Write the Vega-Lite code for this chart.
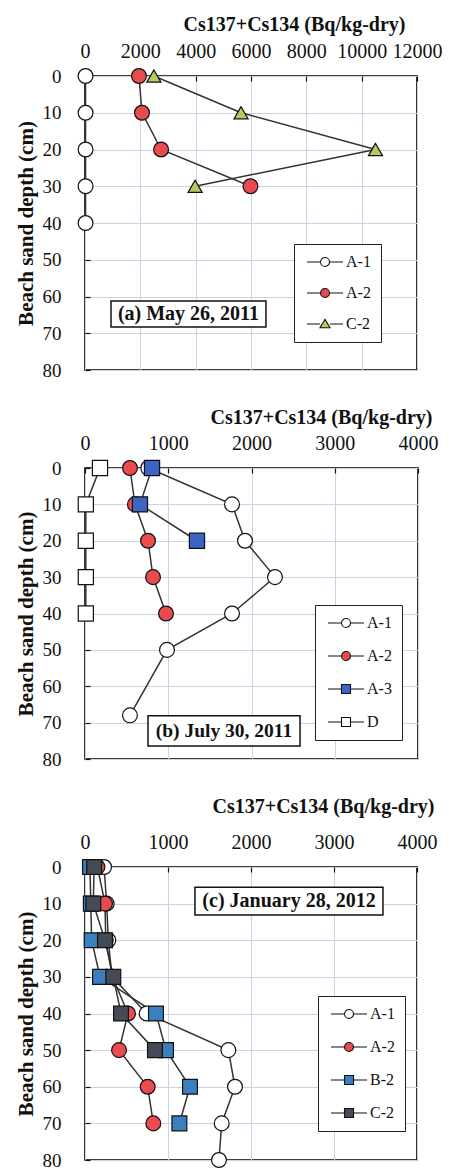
{
  "$schema": "https://vega.github.io/schema/vega-lite/v6.json",
  "background": "white",
  "padding": {"top": 13, "left": 14, "right": 0, "bottom": 0},
  "spacing": 25,
  "config": {
    "view": {"stroke": "black", "strokeWidth": 1.6},
    "axis": {
      "labelFont": "Liberation Serif", "labelColor": "#111", "labelFontSize": 19,
      "titleFont": "Liberation Serif", "titleFontWeight": "bold", "titleColor": "#111", "titleFontSize": 20,
      "grid": true, "gridColor": "#c9d3e3", "gridWidth": 1,
      "domain": false, "ticks": true, "tickColor": "#111", "tickSize": -5, "tickWidth": 1.2,
      "labelFlush": false, "labelOverlap": false, "labelBound": false, "format": "d"
    },
    "legend": {
      "labelFont": "Liberation Serif", "labelFontSize": 16, "labelColor": "#111",
      "strokeColor": "#222", "fillColor": "white", "padding": 10, "symbolSize": 100, "labelOffset": 26,
      "symbolOpacity": 1, "symbolStrokeColor": "#111", "symbolStrokeWidth": 1.1
    }
  },
  "vconcat": [
    {
      "width": 332, "height": 294,
      "data": {"values": [
        {"s": "A-1", "depth": 0, "v": 20}, {"s": "A-1", "depth": 10, "v": 20}, {"s": "A-1", "depth": 20, "v": 20}, {"s": "A-1", "depth": 30, "v": 20}, {"s": "A-1", "depth": 40, "v": 20},
        {"s": "A-2", "depth": 0, "v": 1950}, {"s": "A-2", "depth": 10, "v": 2060}, {"s": "A-2", "depth": 20, "v": 2750}, {"s": "A-2", "depth": 30, "v": 5980},
        {"s": "C-2", "depth": 0, "v": 2490}, {"s": "C-2", "depth": 10, "v": 5640}, {"s": "C-2", "depth": 20, "v": 10500}, {"s": "C-2", "depth": 30, "v": 3980}
      ]},
      "layer": [
        {"mark": {"type": "line", "color": "#333", "strokeWidth": 1.5},
          "encoding": {
            "x": {"field": "v", "type": "quantitative", "scale": {"domain": [0, 12000], "nice": false},
              "axis": {"orient": "top", "title": "Cs137+Cs134 (Bq/kg-dry)", "values": [0, 2000, 4000, 6000, 8000, 10000, 12000], "labelOverlap": false, "labelFlush": false, "labelFontSize": 20, "labelPadding": 20, "titleX": 209, "titleY": -46, "titleAlign": "center", "titleBaseline": "alphabetic"}},
            "y": {"field": "depth", "type": "quantitative", "scale": {"domain": [0, 80], "reverse": true, "nice": false},
              "axis": {"title": "Beach sand depth (cm)", "values": [0, 10, 20, 30, 40, 50, 60, 70, 80], "labelOverlap": false, "labelPadding": 29, "titlePadding": 6, "titleFontSize": 21}},
            "detail": {"field": "s"}, "order": {"field": "depth"}}},
        {"mark": {"type": "point", "filled": true, "opacity": 0, "size": 100, "strokeWidth": 1.1},
          "encoding": {
            "x": {"field": "v", "type": "quantitative", "scale": {"domain": [0, 12000], "nice": false},
              "axis": {"orient": "top", "title": "Cs137+Cs134 (Bq/kg-dry)", "values": [0, 2000, 4000, 6000, 8000, 10000, 12000], "labelOverlap": false, "labelFlush": false, "labelFontSize": 20, "labelPadding": 20, "titleX": 209, "titleY": -46, "titleAlign": "center", "titleBaseline": "alphabetic"}},
            "y": {"field": "depth", "type": "quantitative", "scale": {"domain": [0, 80], "reverse": true, "nice": false},
              "axis": {"title": "Beach sand depth (cm)", "values": [0, 10, 20, 30, 40, 50, 60, 70, 80], "labelOverlap": false, "labelPadding": 29, "titlePadding": 6, "titleFontSize": 21}},
            "shape": {"field": "s", "type": "nominal", "scale": {"domain": ["A-1", "A-2", "C-2"], "range": ["M-1,0H1.7M3.5,0H6.2M3.5,0A0.9,0.9,0,1,1,1.7,0A0.9,0.9,0,1,1,3.5,0Z", "M-1,0H1.7M3.5,0H6.2M3.5,0A0.9,0.9,0,1,1,1.7,0A0.9,0.9,0,1,1,3.5,0Z", "M-1,0H1.6M3.6,0H6.2M2.6,-0.95L3.6,0.75L1.6,0.75Z"]},
              "legend": {"title": null, "orient": "none", "legendX": 209, "legendY": 168, "rowPadding": 15, "symbolOpacity": 1}},
            "stroke": {"field": "s", "type": "nominal", "scale": {"domain": ["A-1", "A-2", "C-2"], "range": ["#111", "#111", "#111"]},
              "legend": {"title": null, "orient": "none", "legendX": 209, "legendY": 168, "rowPadding": 15, "symbolOpacity": 1}},
            "fill": {"field": "s", "type": "nominal", "scale": {"domain": ["A-1", "A-2", "C-2"], "range": ["white", "#e94b4f", "#b5cc5c"]},
              "legend": {"title": null, "orient": "none", "legendX": 209, "legendY": 168, "rowPadding": 15, "symbolOpacity": 1}}
          }},
        {"transform": [{"filter": "datum.s !== 'C-2'"}],
          "mark": {"type": "point", "shape": "circle", "filled": true, "opacity": 1, "stroke": "#111", "strokeWidth": 1.2, "size": 220},
          "encoding": {
            "x": {"field": "v", "type": "quantitative", "scale": {"domain": [0, 12000], "nice": false},
              "axis": {"orient": "top", "title": "Cs137+Cs134 (Bq/kg-dry)", "values": [0, 2000, 4000, 6000, 8000, 10000, 12000], "labelOverlap": false, "labelFlush": false, "labelFontSize": 20, "labelPadding": 20, "titleX": 209, "titleY": -46, "titleAlign": "center", "titleBaseline": "alphabetic"}},
            "y": {"field": "depth", "type": "quantitative", "scale": {"domain": [0, 80], "reverse": true, "nice": false},
              "axis": {"title": "Beach sand depth (cm)", "values": [0, 10, 20, 30, 40, 50, 60, 70, 80], "labelOverlap": false, "labelPadding": 29, "titlePadding": 6, "titleFontSize": 21}},
            "fill": {"field": "s", "type": "nominal", "scale": {"domain": ["A-1", "A-2", "C-2"], "range": ["white", "#e94b4f", "#b5cc5c"]},
              "legend": {"title": null, "orient": "none", "legendX": 209, "legendY": 168, "rowPadding": 15, "symbolOpacity": 1}}
          }},
        {"transform": [{"filter": "datum.s === 'C-2'"}],
          "mark": {"type": "point", "shape": "triangle-up", "filled": true, "opacity": 1, "stroke": "#111", "strokeWidth": 1.2, "size": 200},
          "encoding": {
            "x": {"field": "v", "type": "quantitative", "scale": {"domain": [0, 12000], "nice": false},
              "axis": {"orient": "top", "title": "Cs137+Cs134 (Bq/kg-dry)", "values": [0, 2000, 4000, 6000, 8000, 10000, 12000], "labelOverlap": false, "labelFlush": false, "labelFontSize": 20, "labelPadding": 20, "titleX": 209, "titleY": -46, "titleAlign": "center", "titleBaseline": "alphabetic"}},
            "y": {"field": "depth", "type": "quantitative", "scale": {"domain": [0, 80], "reverse": true, "nice": false},
              "axis": {"title": "Beach sand depth (cm)", "values": [0, 10, 20, 30, 40, 50, 60, 70, 80], "labelOverlap": false, "labelPadding": 29, "titlePadding": 6, "titleFontSize": 21}},
            "fill": {"field": "s", "type": "nominal", "scale": {"domain": ["A-1", "A-2", "C-2"], "range": ["white", "#e94b4f", "#b5cc5c"]},
              "legend": {"title": null, "orient": "none", "legendX": 209, "legendY": 168, "rowPadding": 15, "symbolOpacity": 1}}
          }},
        {"data": {"values": [{"label": "(a) May 26, 2011"}]}, "mark": {"type": "rect", "fill": "white", "stroke": "#111", "strokeWidth": 1.5},
          "encoding": {
            "x": {"datum": 940, "type": "quantitative", "scale": {"domain": [0, 12000], "nice": false},
              "axis": {"orient": "top", "title": "Cs137+Cs134 (Bq/kg-dry)", "values": [0, 2000, 4000, 6000, 8000, 10000, 12000], "labelOverlap": false, "labelFlush": false, "labelFontSize": 20, "labelPadding": 20, "titleX": 209, "titleY": -46, "titleAlign": "center", "titleBaseline": "alphabetic"}},
            "x2": {"datum": 6540},
            "y": {"datum": 61.2, "type": "quantitative", "scale": {"domain": [0, 80], "reverse": true, "nice": false},
              "axis": {"title": "Beach sand depth (cm)", "values": [0, 10, 20, 30, 40, 50, 60, 70, 80], "labelOverlap": false, "labelPadding": 29, "titlePadding": 6, "titleFontSize": 21}},
            "y2": {"datum": 68.3}}},
        {"data": {"values": [{"label": "(a) May 26, 2011"}]}, "mark": {"type": "text", "font": "Liberation Serif", "fontWeight": "bold", "fontSize": 20, "color": "#111"},
          "encoding": {"text": {"field": "label"},
            "x": {"datum": 3740, "type": "quantitative", "scale": {"domain": [0, 12000], "nice": false},
              "axis": {"orient": "top", "title": "Cs137+Cs134 (Bq/kg-dry)", "values": [0, 2000, 4000, 6000, 8000, 10000, 12000], "labelOverlap": false, "labelFlush": false, "labelFontSize": 20, "labelPadding": 20, "titleX": 209, "titleY": -46, "titleAlign": "center", "titleBaseline": "alphabetic"}},
            "y": {"datum": 64.8, "type": "quantitative", "scale": {"domain": [0, 80], "reverse": true, "nice": false},
              "axis": {"title": "Beach sand depth (cm)", "values": [0, 10, 20, 30, 40, 50, 60, 70, 80], "labelOverlap": false, "labelPadding": 29, "titlePadding": 6, "titleFontSize": 21}}}}
      ]
    },
    {
      "width": 333, "height": 291,
      "data": {"values": [
        {"s": "A-1", "depth": 0, "v": 760}, {"s": "A-1", "depth": 10, "v": 1766}, {"s": "A-1", "depth": 20, "v": 1922}, {"s": "A-1", "depth": 30, "v": 2282}, {"s": "A-1", "depth": 40, "v": 1766}, {"s": "A-1", "depth": 50, "v": 985}, {"s": "A-1", "depth": 68, "v": 540},
        {"s": "A-2", "depth": 0, "v": 540}, {"s": "A-2", "depth": 10, "v": 600}, {"s": "A-2", "depth": 20, "v": 757}, {"s": "A-2", "depth": 30, "v": 817}, {"s": "A-2", "depth": 40, "v": 973},
        {"s": "A-3", "depth": 0, "v": 805}, {"s": "A-3", "depth": 10, "v": 660}, {"s": "A-3", "depth": 20, "v": 1345},
        {"s": "D", "depth": 0, "v": 180}, {"s": "D", "depth": 10, "v": 10}, {"s": "D", "depth": 20, "v": 10}, {"s": "D", "depth": 30, "v": 10}, {"s": "D", "depth": 40, "v": 10}
      ]},
      "layer": [
        {"mark": {"type": "line", "color": "#333", "strokeWidth": 1.5},
          "encoding": {
            "x": {"field": "v", "type": "quantitative", "scale": {"domain": [0, 4000], "nice": false},
              "axis": {"orient": "top", "title": "Cs137+Cs134 (Bq/kg-dry)", "values": [0, 1000, 2000, 3000, 4000], "labelOverlap": false, "labelFlush": false, "labelFontSize": 20, "labelPadding": 20, "titleX": 236, "titleY": -45, "titleAlign": "center", "titleBaseline": "alphabetic"}},
            "y": {"field": "depth", "type": "quantitative", "scale": {"domain": [0, 80], "reverse": true, "nice": false},
              "axis": {"title": "Beach sand depth (cm)", "values": [0, 10, 20, 30, 40, 50, 60, 70, 80], "labelOverlap": false, "labelPadding": 29, "titlePadding": 6, "titleFontSize": 21}},
            "detail": {"field": "s"}, "order": {"field": "depth"}}},
        {"mark": {"type": "point", "filled": true, "opacity": 0, "size": 100, "strokeWidth": 1.1},
          "encoding": {
            "x": {"field": "v", "type": "quantitative", "scale": {"domain": [0, 4000], "nice": false},
              "axis": {"orient": "top", "title": "Cs137+Cs134 (Bq/kg-dry)", "values": [0, 1000, 2000, 3000, 4000], "labelOverlap": false, "labelFlush": false, "labelFontSize": 20, "labelPadding": 20, "titleX": 236, "titleY": -45, "titleAlign": "center", "titleBaseline": "alphabetic"}},
            "y": {"field": "depth", "type": "quantitative", "scale": {"domain": [0, 80], "reverse": true, "nice": false},
              "axis": {"title": "Beach sand depth (cm)", "values": [0, 10, 20, 30, 40, 50, 60, 70, 80], "labelOverlap": false, "labelPadding": 29, "titlePadding": 6, "titleFontSize": 21}},
            "shape": {"field": "s", "type": "nominal", "scale": {"domain": ["A-1", "A-2", "A-3", "D"], "range": ["M-1,0H1.7M3.5,0H6.2M3.5,0A0.9,0.9,0,1,1,1.7,0A0.9,0.9,0,1,1,3.5,0Z", "M-1,0H1.7M3.5,0H6.2M3.5,0A0.9,0.9,0,1,1,1.7,0A0.9,0.9,0,1,1,3.5,0Z", "M-1,0H1.7M3.5,0H6.2M1.7,-0.9H3.5V0.9H1.7Z", "M-1,0H1.7M3.5,0H6.2M1.7,-0.9H3.5V0.9H1.7Z"]},
              "legend": {"title": null, "orient": "none", "legendX": 230, "legendY": 137, "rowPadding": 17, "symbolOpacity": 1}},
            "stroke": {"field": "s", "type": "nominal", "scale": {"domain": ["A-1", "A-2", "A-3", "D"], "range": ["#111", "#111", "#111", "#111"]},
              "legend": {"title": null, "orient": "none", "legendX": 230, "legendY": 137, "rowPadding": 17, "symbolOpacity": 1}},
            "fill": {"field": "s", "type": "nominal", "scale": {"domain": ["A-1", "A-2", "A-3", "D"], "range": ["white", "#e94b4f", "#3c64c3", "white"]},
              "legend": {"title": null, "orient": "none", "legendX": 230, "legendY": 137, "rowPadding": 17, "symbolOpacity": 1}}
          }},
        {"transform": [{"filter": "datum.s === 'A-1' || datum.s === 'A-2'"}],
          "mark": {"type": "point", "shape": "circle", "filled": true, "opacity": 1, "stroke": "#111", "strokeWidth": 1.2, "size": 220},
          "encoding": {
            "x": {"field": "v", "type": "quantitative", "scale": {"domain": [0, 4000], "nice": false},
              "axis": {"orient": "top", "title": "Cs137+Cs134 (Bq/kg-dry)", "values": [0, 1000, 2000, 3000, 4000], "labelOverlap": false, "labelFlush": false, "labelFontSize": 20, "labelPadding": 20, "titleX": 236, "titleY": -45, "titleAlign": "center", "titleBaseline": "alphabetic"}},
            "y": {"field": "depth", "type": "quantitative", "scale": {"domain": [0, 80], "reverse": true, "nice": false},
              "axis": {"title": "Beach sand depth (cm)", "values": [0, 10, 20, 30, 40, 50, 60, 70, 80], "labelOverlap": false, "labelPadding": 29, "titlePadding": 6, "titleFontSize": 21}},
            "fill": {"field": "s", "type": "nominal", "scale": {"domain": ["A-1", "A-2", "A-3", "D"], "range": ["white", "#e94b4f", "#3c64c3", "white"]},
              "legend": {"title": null, "orient": "none", "legendX": 230, "legendY": 137, "rowPadding": 17, "symbolOpacity": 1}}
          }},
        {"transform": [{"filter": "datum.s === 'A-3' || datum.s === 'D'"}],
          "mark": {"type": "point", "shape": "square", "filled": true, "opacity": 1, "stroke": "#111", "strokeWidth": 1.2, "size": 230},
          "encoding": {
            "x": {"field": "v", "type": "quantitative", "scale": {"domain": [0, 4000], "nice": false},
              "axis": {"orient": "top", "title": "Cs137+Cs134 (Bq/kg-dry)", "values": [0, 1000, 2000, 3000, 4000], "labelOverlap": false, "labelFlush": false, "labelFontSize": 20, "labelPadding": 20, "titleX": 236, "titleY": -45, "titleAlign": "center", "titleBaseline": "alphabetic"}},
            "y": {"field": "depth", "type": "quantitative", "scale": {"domain": [0, 80], "reverse": true, "nice": false},
              "axis": {"title": "Beach sand depth (cm)", "values": [0, 10, 20, 30, 40, 50, 60, 70, 80], "labelOverlap": false, "labelPadding": 29, "titlePadding": 6, "titleFontSize": 21}},
            "fill": {"field": "s", "type": "nominal", "scale": {"domain": ["A-1", "A-2", "A-3", "D"], "range": ["white", "#e94b4f", "#3c64c3", "white"]},
              "legend": {"title": null, "orient": "none", "legendX": 230, "legendY": 137, "rowPadding": 17, "symbolOpacity": 1}}
          }},
        {"data": {"values": [{"label": "(b) July 30, 2011"}]}, "mark": {"type": "rect", "fill": "white", "stroke": "#111", "strokeWidth": 1.5},
          "encoding": {
            "x": {"datum": 757, "type": "quantitative", "scale": {"domain": [0, 4000], "nice": false},
              "axis": {"orient": "top", "title": "Cs137+Cs134 (Bq/kg-dry)", "values": [0, 1000, 2000, 3000, 4000], "labelOverlap": false, "labelFlush": false, "labelFontSize": 20, "labelPadding": 20, "titleX": 236, "titleY": -45, "titleAlign": "center", "titleBaseline": "alphabetic"}},
            "x2": {"datum": 2583},
            "y": {"datum": 68.1, "type": "quantitative", "scale": {"domain": [0, 80], "reverse": true, "nice": false},
              "axis": {"title": "Beach sand depth (cm)", "values": [0, 10, 20, 30, 40, 50, 60, 70, 80], "labelOverlap": false, "labelPadding": 29, "titlePadding": 6, "titleFontSize": 21}},
            "y2": {"datum": 76.4}}},
        {"data": {"values": [{"label": "(b) July 30, 2011"}]}, "mark": {"type": "text", "font": "Liberation Serif", "fontWeight": "bold", "fontSize": 19.5, "color": "#111"},
          "encoding": {"text": {"field": "label"},
            "x": {"datum": 1670, "type": "quantitative", "scale": {"domain": [0, 4000], "nice": false},
              "axis": {"orient": "top", "title": "Cs137+Cs134 (Bq/kg-dry)", "values": [0, 1000, 2000, 3000, 4000], "labelOverlap": false, "labelFlush": false, "labelFontSize": 20, "labelPadding": 20, "titleX": 236, "titleY": -45, "titleAlign": "center", "titleBaseline": "alphabetic"}},
            "y": {"datum": 72.3, "type": "quantitative", "scale": {"domain": [0, 80], "reverse": true, "nice": false},
              "axis": {"title": "Beach sand depth (cm)", "values": [0, 10, 20, 30, 40, 50, 60, 70, 80], "labelOverlap": false, "labelPadding": 29, "titlePadding": 6, "titleFontSize": 21}}}}
      ]
    },
    {
      "width": 332, "height": 293,
      "data": {"values": [
        {"s": "A-1", "depth": 0, "v": 230}, {"s": "A-1", "depth": 10, "v": 261}, {"s": "A-1", "depth": 20, "v": 281}, {"s": "A-1", "depth": 30, "v": 325}, {"s": "A-1", "depth": 40, "v": 743}, {"s": "A-1", "depth": 50, "v": 1727}, {"s": "A-1", "depth": 60, "v": 1807}, {"s": "A-1", "depth": 70, "v": 1647}, {"s": "A-1", "depth": 80, "v": 1614},
        {"s": "A-2", "depth": 0, "v": 150}, {"s": "A-2", "depth": 10, "v": 241}, {"s": "A-2", "depth": 20, "v": 250}, {"s": "A-2", "depth": 30, "v": 330}, {"s": "A-2", "depth": 40, "v": 518}, {"s": "A-2", "depth": 50, "v": 410}, {"s": "A-2", "depth": 60, "v": 755}, {"s": "A-2", "depth": 70, "v": 823},
        {"s": "B-2", "depth": 0, "v": 60}, {"s": "B-2", "depth": 10, "v": 70}, {"s": "B-2", "depth": 20, "v": 80}, {"s": "B-2", "depth": 30, "v": 181}, {"s": "B-2", "depth": 40, "v": 855}, {"s": "B-2", "depth": 50, "v": 976}, {"s": "B-2", "depth": 60, "v": 1265}, {"s": "B-2", "depth": 70, "v": 1137},
        {"s": "C-2", "depth": 0, "v": 110}, {"s": "C-2", "depth": 10, "v": 100}, {"s": "C-2", "depth": 20, "v": 241}, {"s": "C-2", "depth": 30, "v": 341}, {"s": "C-2", "depth": 40, "v": 434}, {"s": "C-2", "depth": 50, "v": 843}
      ]},
      "layer": [
        {"mark": {"type": "line", "color": "#333", "strokeWidth": 1.5},
          "encoding": {
            "x": {"field": "v", "type": "quantitative", "scale": {"domain": [0, 4000], "nice": false},
              "axis": {"orient": "top", "title": "Cs137+Cs134 (Bq/kg-dry)", "values": [0, 1000, 2000, 3000, 4000], "labelOverlap": false, "labelFlush": false, "labelFontSize": 20, "labelPadding": 20, "titleX": 238, "titleY": -55, "titleAlign": "center", "titleBaseline": "alphabetic"}},
            "y": {"field": "depth", "type": "quantitative", "scale": {"domain": [0, 80], "reverse": true, "nice": false},
              "axis": {"title": "Beach sand depth (cm)", "values": [0, 10, 20, 30, 40, 50, 60, 70, 80], "labelOverlap": false, "labelPadding": 29, "titlePadding": 6, "titleFontSize": 21}},
            "detail": {"field": "s"}, "order": {"field": "depth"}}},
        {"mark": {"type": "point", "filled": true, "opacity": 0, "size": 100, "strokeWidth": 1.1},
          "encoding": {
            "x": {"field": "v", "type": "quantitative", "scale": {"domain": [0, 4000], "nice": false},
              "axis": {"orient": "top", "title": "Cs137+Cs134 (Bq/kg-dry)", "values": [0, 1000, 2000, 3000, 4000], "labelOverlap": false, "labelFlush": false, "labelFontSize": 20, "labelPadding": 20, "titleX": 238, "titleY": -55, "titleAlign": "center", "titleBaseline": "alphabetic"}},
            "y": {"field": "depth", "type": "quantitative", "scale": {"domain": [0, 80], "reverse": true, "nice": false},
              "axis": {"title": "Beach sand depth (cm)", "values": [0, 10, 20, 30, 40, 50, 60, 70, 80], "labelOverlap": false, "labelPadding": 29, "titlePadding": 6, "titleFontSize": 21}},
            "shape": {"field": "s", "type": "nominal", "scale": {"domain": ["A-1", "A-2", "B-2", "C-2"], "range": ["M-1,0H1.7M3.5,0H6.2M3.5,0A0.9,0.9,0,1,1,1.7,0A0.9,0.9,0,1,1,3.5,0Z", "M-1,0H1.7M3.5,0H6.2M3.5,0A0.9,0.9,0,1,1,1.7,0A0.9,0.9,0,1,1,3.5,0Z", "M-1,0H1.7M3.5,0H6.2M1.7,-0.9H3.5V0.9H1.7Z", "M-1,0H1.7M3.5,0H6.2M1.7,-0.9H3.5V0.9H1.7Z"]},
              "legend": {"title": null, "orient": "none", "legendX": 233, "legendY": 129, "rowPadding": 17, "symbolOpacity": 1}},
            "stroke": {"field": "s", "type": "nominal", "scale": {"domain": ["A-1", "A-2", "B-2", "C-2"], "range": ["#111", "#111", "#111", "#111"]},
              "legend": {"title": null, "orient": "none", "legendX": 233, "legendY": 129, "rowPadding": 17, "symbolOpacity": 1}},
            "fill": {"field": "s", "type": "nominal", "scale": {"domain": ["A-1", "A-2", "B-2", "C-2"], "range": ["white", "#e94b4f", "#3b7fbf", "#454b55"]},
              "legend": {"title": null, "orient": "none", "legendX": 233, "legendY": 129, "rowPadding": 17, "symbolOpacity": 1}}
          }},
        {"transform": [{"filter": "datum.s === 'A-1' || datum.s === 'A-2'"}],
          "mark": {"type": "point", "shape": "circle", "filled": true, "opacity": 1, "stroke": "#111", "strokeWidth": 1.2, "size": 220},
          "encoding": {
            "x": {"field": "v", "type": "quantitative", "scale": {"domain": [0, 4000], "nice": false},
              "axis": {"orient": "top", "title": "Cs137+Cs134 (Bq/kg-dry)", "values": [0, 1000, 2000, 3000, 4000], "labelOverlap": false, "labelFlush": false, "labelFontSize": 20, "labelPadding": 20, "titleX": 238, "titleY": -55, "titleAlign": "center", "titleBaseline": "alphabetic"}},
            "y": {"field": "depth", "type": "quantitative", "scale": {"domain": [0, 80], "reverse": true, "nice": false},
              "axis": {"title": "Beach sand depth (cm)", "values": [0, 10, 20, 30, 40, 50, 60, 70, 80], "labelOverlap": false, "labelPadding": 29, "titlePadding": 6, "titleFontSize": 21}},
            "fill": {"field": "s", "type": "nominal", "scale": {"domain": ["A-1", "A-2", "B-2", "C-2"], "range": ["white", "#e94b4f", "#3b7fbf", "#454b55"]},
              "legend": {"title": null, "orient": "none", "legendX": 233, "legendY": 129, "rowPadding": 17, "symbolOpacity": 1}}
          }},
        {"transform": [{"filter": "datum.s === 'B-2' || datum.s === 'C-2'"}],
          "mark": {"type": "point", "shape": "square", "filled": true, "opacity": 1, "stroke": "#111", "strokeWidth": 1.2, "size": 220},
          "encoding": {
            "x": {"field": "v", "type": "quantitative", "scale": {"domain": [0, 4000], "nice": false},
              "axis": {"orient": "top", "title": "Cs137+Cs134 (Bq/kg-dry)", "values": [0, 1000, 2000, 3000, 4000], "labelOverlap": false, "labelFlush": false, "labelFontSize": 20, "labelPadding": 20, "titleX": 238, "titleY": -55, "titleAlign": "center", "titleBaseline": "alphabetic"}},
            "y": {"field": "depth", "type": "quantitative", "scale": {"domain": [0, 80], "reverse": true, "nice": false},
              "axis": {"title": "Beach sand depth (cm)", "values": [0, 10, 20, 30, 40, 50, 60, 70, 80], "labelOverlap": false, "labelPadding": 29, "titlePadding": 6, "titleFontSize": 21}},
            "fill": {"field": "s", "type": "nominal", "scale": {"domain": ["A-1", "A-2", "B-2", "C-2"], "range": ["white", "#e94b4f", "#3b7fbf", "#454b55"]},
              "legend": {"title": null, "orient": "none", "legendX": 233, "legendY": 129, "rowPadding": 17, "symbolOpacity": 1}}
          }},
        {"data": {"values": [{"label": "(c) January 28, 2012"}]}, "mark": {"type": "rect", "fill": "white", "stroke": "#111", "strokeWidth": 1.5},
          "encoding": {
            "x": {"datum": 1325, "type": "quantitative", "scale": {"domain": [0, 4000], "nice": false},
              "axis": {"orient": "top", "title": "Cs137+Cs134 (Bq/kg-dry)", "values": [0, 1000, 2000, 3000, 4000], "labelOverlap": false, "labelFlush": false, "labelFontSize": 20, "labelPadding": 20, "titleX": 238, "titleY": -55, "titleAlign": "center", "titleBaseline": "alphabetic"}},
            "x2": {"datum": 3590},
            "y": {"datum": 5.5, "type": "quantitative", "scale": {"domain": [0, 80], "reverse": true, "nice": false},
              "axis": {"title": "Beach sand depth (cm)", "values": [0, 10, 20, 30, 40, 50, 60, 70, 80], "labelOverlap": false, "labelPadding": 29, "titlePadding": 6, "titleFontSize": 21}},
            "y2": {"datum": 13.1}}},
        {"data": {"values": [{"label": "(c) January 28, 2012"}]}, "mark": {"type": "text", "font": "Liberation Serif", "fontWeight": "bold", "fontSize": 20, "color": "#111"},
          "encoding": {"text": {"field": "label"},
            "x": {"datum": 2458, "type": "quantitative", "scale": {"domain": [0, 4000], "nice": false},
              "axis": {"orient": "top", "title": "Cs137+Cs134 (Bq/kg-dry)", "values": [0, 1000, 2000, 3000, 4000], "labelOverlap": false, "labelFlush": false, "labelFontSize": 20, "labelPadding": 20, "titleX": 238, "titleY": -55, "titleAlign": "center", "titleBaseline": "alphabetic"}},
            "y": {"datum": 9.3, "type": "quantitative", "scale": {"domain": [0, 80], "reverse": true, "nice": false},
              "axis": {"title": "Beach sand depth (cm)", "values": [0, 10, 20, 30, 40, 50, 60, 70, 80], "labelOverlap": false, "labelPadding": 29, "titlePadding": 6, "titleFontSize": 21}}}}
      ]
    }
  ],
  "resolve": {
    "scale": {"x": "independent", "y": "independent", "fill": "independent", "shape": "independent", "stroke": "independent"},
    "legend": {"fill": "independent", "shape": "independent", "stroke": "independent"}
  }
}
